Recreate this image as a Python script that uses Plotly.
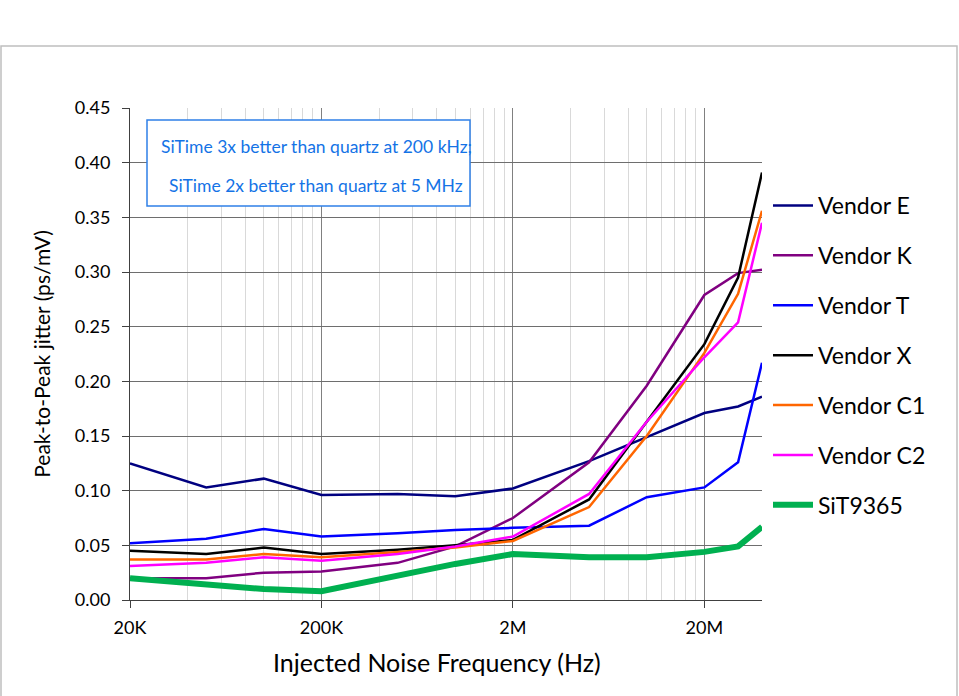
import plotly.graph_objects as go

freq = [20e3, 50e3, 100e3, 200e3, 500e3, 1e6, 2e6, 5e6, 10e6, 20e6, 30e6, 40e6]

vendor_e = [0.125, 0.103, 0.111, 0.096, 0.097, 0.095, 0.102, 0.127, 0.149, 0.171, 0.177, 0.186]
vendor_k = [0.020, 0.020, 0.025, 0.026, 0.034, 0.049, 0.075, 0.126, 0.196, 0.279, 0.299, 0.302]
vendor_t = [0.052, 0.056, 0.065, 0.058, 0.061, 0.064, 0.066, 0.068, 0.094, 0.103, 0.126, 0.217]
vendor_x = [0.045, 0.042, 0.048, 0.042, 0.046, 0.050, 0.055, 0.092, 0.163, 0.234, 0.295, 0.391]
vendor_c1 = [0.037, 0.037, 0.042, 0.039, 0.044, 0.048, 0.054, 0.085, 0.150, 0.226, 0.280, 0.356]
vendor_c2 = [0.031, 0.034, 0.039, 0.036, 0.042, 0.049, 0.058, 0.097, 0.163, 0.222, 0.254, 0.345]
sit9365 = [0.020, 0.014, 0.010, 0.008, 0.022, 0.033, 0.042, 0.039, 0.039, 0.044, 0.049, 0.067]

series_names = ["Vendor E", "Vendor K", "Vendor T", "Vendor X", "Vendor C1", "Vendor C2", "SiT9365"]
series_values = [vendor_e, vendor_k, vendor_t, vendor_x, vendor_c1, vendor_c2, sit9365]
series_colors = ["#000080", "#800080", "#0000FF", "#000000", "#FF6600", "#FF00FF", "#00B050"]
series_widths = [2.5, 2.5, 2.5, 2.5, 2.5, 2.5, 6]

x_tickvals = [2e4, 2e5, 2e6, 2e7]
x_ticktext = ["20K", "200K", "2M", "20M"]
minor_vals = [m * d for d in (2e4, 2e5, 2e6) for m in range(2, 10)] + [4e7]

y_tickvals = [0.00, 0.05, 0.10, 0.15, 0.20, 0.25, 0.30, 0.35, 0.40, 0.45]

note_lines = ["SiTime 3x better than quartz at 200 kHz;", "SiTime 2x better than quartz at 5 MHz"]
x_title = "Injected Noise Frequency (Hz)"

fig = go.Figure()
for i, (name, vals, col, w) in enumerate(zip(series_names, series_values, series_colors, series_widths)):
    fig.add_trace(go.Scatter(
        x=freq, y=vals, mode="lines", name=name,
        line=dict(color=col, width=w), legendgroup=f"g{i}",
    ))

L, R, T, B = 130, 762, 108, 600
W, H = 959, 696
pw, ph = R - L, B - T

def px(x):
    return (x - L) / pw

def py(y):
    return (B - y) / ph

annotations = [
    dict(xref="paper", yref="paper", x=px(316), y=py(yy),
         xanchor="center", yanchor="middle", showarrow=False,
         text=t, font=dict(size=17.5, color="#1473E6"))
    for t, yy in zip(note_lines, [147, 185])
]
annotations.append(dict(
    xref="paper", yref="paper", x=px(437), y=py(662),
    xanchor="center", yanchor="middle", showarrow=False,
    text=x_title, font=dict(size=25, color="#000000"),
))

fig.update_layout(
    width=W, height=H,
    margin=dict(l=L, r=W - R, t=T, b=H - B, pad=0),
    paper_bgcolor="white", plot_bgcolor="white",
    font=dict(family="Lato, Open Sans, sans-serif", color="#000000"),
    showlegend=True,
    legend=dict(
        x=px(768), y=py(184), xanchor="left", yanchor="top",
        font=dict(size=23, color="#000000"),
        tracegroupgap=17, itemwidth=40, bgcolor="rgba(0,0,0,0)",
    ),
    xaxis=dict(
        type="log", range=[4.30103, 7.60206],
        tickmode="array", tickvals=x_tickvals, ticktext=x_ticktext,
        tickfont=dict(size=18), ticks="outside", ticklen=7, tickcolor="#404040",
        ticklabelstandoff=4,
        showline=True, linecolor="#404040", linewidth=1,
        showgrid=True, gridcolor="#808080", gridwidth=1,
        minor=dict(tickmode="array", tickvals=minor_vals, showgrid=True,
                   gridcolor="#D9D9D9", gridwidth=1, ticks=""),
        zeroline=False,
    ),
    yaxis=dict(
        range=[0, 0.45], tickmode="array", tickvals=y_tickvals,
        tickformat=".2f", tickfont=dict(size=18), ticklabelstandoff=8,
        ticks="outside", ticklen=7, tickcolor="#404040",
        showline=True, linecolor="#404040", linewidth=1,
        showgrid=True, gridcolor="#6E6E6E", gridwidth=1,
        title=dict(text="Peak-to-Peak jitter (ps/mV)", font=dict(size=21), standoff=18),
        zeroline=False,
    ),
    shapes=[
        dict(type="rect", xref="paper", yref="paper",
             x0=px(1), x1=px(957), y0=py(710), y1=py(46),
             line=dict(color="#BFBFBF", width=1.5), layer="below"),
        dict(type="rect", xref="paper", yref="paper",
             x0=px(147), x1=px(470), y0=py(206), y1=py(120),
             line=dict(color="#2F80E8", width=1.5), fillcolor="white", layer="above"),
    ],
    annotations=annotations,
)

fig.write_html("out.html", config={"displayModeBar": False},
               post_script="document.body.style.margin='0';")
